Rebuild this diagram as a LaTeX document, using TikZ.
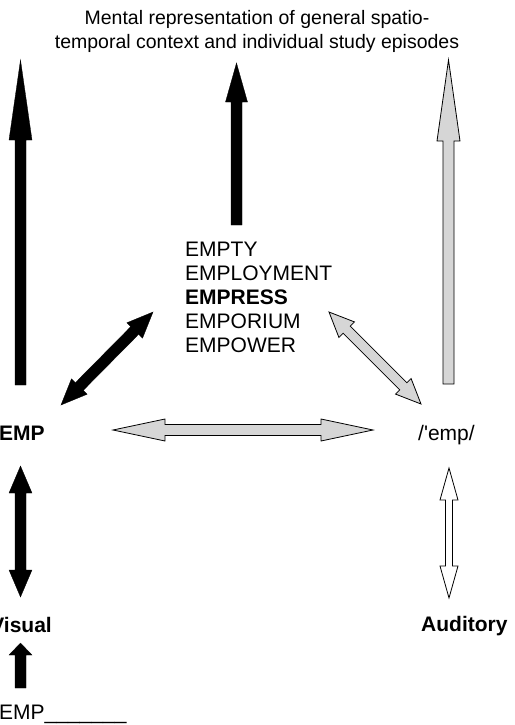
\documentclass[tikz,border=0pt]{standalone}
\usepackage{fontspec}
\setmainfont{Liberation Sans}
\usetikzlibrary{calc}
\definecolor{shadegray}{RGB}{214,214,214}

\tikzset{
  solidarrow/.style={fill=black, draw=black, line width=0.3pt, line join=miter},
  grayarrow/.style={fill=shadegray, draw=black, line width=0.8pt, line join=miter},
  hollowarrow/.style={fill=white, draw=black, line width=0.8pt, line join=miter},
  txt/.style={inner sep=0pt, font=\fontsize{21}{24}\selectfont},
  boldtxt/.style={txt, font=\fontsize{21}{24}\selectfont\bfseries},
}

% block arrow from #2 to #3: shaft half width #4, head half width #5, head length #6
\newcommand\onewayarrow[6]{%
  \draw[#1] ($(#2)!#4!90:(#3)$)
    -- ($(#3)!#6!(#2)!#4!90:(#3)$)
    -- ($(#3)!#6!(#2)!#5!90:(#3)$)
    -- (#3)
    -- ($(#3)!#6!(#2)!#5!-90:(#3)$)
    -- ($(#3)!#6!(#2)!#4!-90:(#3)$)
    -- ($(#2)!#4!-90:(#3)$) -- cycle;}

% block arrow with heads at both ends
\newcommand\twowayarrow[6]{%
  \draw[#1] (#2)
    -- ($(#2)!#6!(#3)!#5!-90:(#2)$)
    -- ($(#2)!#6!(#3)!#4!-90:(#2)$)
    -- ($(#3)!#6!(#2)!#4!90:(#3)$)
    -- ($(#3)!#6!(#2)!#5!90:(#3)$)
    -- (#3)
    -- ($(#3)!#6!(#2)!#5!-90:(#3)$)
    -- ($(#3)!#6!(#2)!#4!-90:(#3)$)
    -- ($(#2)!#6!(#3)!#4!90:(#2)$)
    -- ($(#2)!#6!(#3)!#5!90:(#2)$) -- cycle;}

\begin{document}
\begin{tikzpicture}[x=1pt, y=-1pt]
  \useasboundingbox (0,0) rectangle (514,725);

  % labels
  \node[txt, align=center, font=\fontsize{19.5}{24}\selectfont] (context) at (257,31)
    {Mental representation of general spatio-\\temporal context and individual study episodes};
  \node[txt, align=left, anchor=west] (lexicon) at (185,297)
    {EMPTY\\EMPLOYMENT\\\textbf{EMPRESS}\\EMPORIUM\\EMPOWER};
  \node[boldtxt, anchor=west] (ortho) at (-1,433) {EMP};
  \node[txt, anchor=west] (phono) at (418,435) {/\textquotesingle emp/};
  \node[boldtxt, anchor=east] (visual) at (52,625) {Visual};
  \node[boldtxt, anchor=west] (auditory) at (421,626) {Auditory};
  \node[txt, anchor=base west] (stimulus) at (-1,719.5) {EMP\_\_\_\_\_\_\_};

  % arrow end points
  \coordinate (ortho-up)    at (20.5,385);
  \coordinate (context-l)   at (20.5,60);
  \coordinate (lexicon-up)  at (236.5,225);
  \coordinate (context-m)   at (236.5,63);
  \coordinate (phono-up)    at (448.5,384);
  \coordinate (context-r)   at (448.5,60);
  \coordinate (ortho-ne)    at (61,405);
  \coordinate (lexicon-sw)  at (153,312);
  \coordinate (lexicon-se)  at (329,312);
  \coordinate (phono-nw)    at (421,404);
  \coordinate (ortho-e)     at (113,430);
  \coordinate (phono-w)     at (373,430);
  \coordinate (ortho-down)  at (20.5,466);
  \coordinate (visual-up)   at (20.5,597);
  \coordinate (phono-down)  at (449,468);
  \coordinate (auditory-up) at (449,598);
  \coordinate (stimulus-up) at (20.5,688);
  \coordinate (visual-down) at (20.5,643);

  % connectors
  \onewayarrow{solidarrow}{ortho-up}{context-l}{5.5pt}{11.5pt}{80pt}
  \onewayarrow{solidarrow}{lexicon-up}{context-m}{5.5pt}{11pt}{39pt}
  \onewayarrow{grayarrow}{phono-up}{context-r}{5.5pt}{11.5pt}{81pt}
  \twowayarrow{solidarrow}{ortho-ne}{lexicon-sw}{5.5pt}{11pt}{26pt}
  \twowayarrow{grayarrow}{lexicon-se}{phono-nw}{5pt}{11pt}{25pt}
  \twowayarrow{grayarrow}{ortho-e}{phono-w}{5.5pt}{11pt}{52pt}
  \twowayarrow{solidarrow}{ortho-down}{visual-up}{5.5pt}{11.5pt}{27pt}
  \twowayarrow{hollowarrow}{phono-down}{auditory-up}{3.5pt}{9pt}{32pt}
  \onewayarrow{solidarrow}{stimulus-up}{visual-down}{5.5pt}{11.5pt}{12pt}
\end{tikzpicture}
\end{document}
